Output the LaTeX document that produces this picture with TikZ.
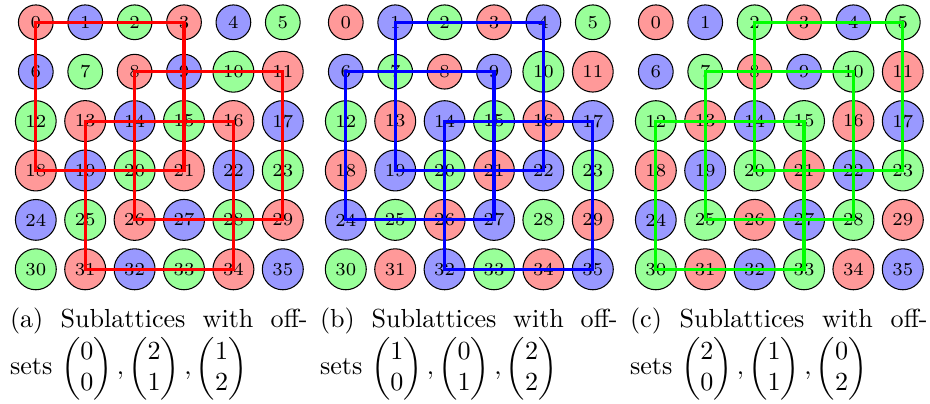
\documentclass[tikz,border=0pt]{standalone}
\usepackage{amsmath}
\definecolor{siteRed}{HTML}{FF9999}
\definecolor{siteBlue}{HTML}{9999FF}
\definecolor{siteGreen}{HTML}{99FF99}
\definecolor{subRed}{HTML}{FF0000}
\definecolor{subBlue}{HTML}{0000FF}
\definecolor{subGreen}{HTML}{00FF00}
\tikzset{
  % --- lattice sites -------------------------------------------------------
  site/.style     = {circle, draw=black, line width=0.4pt, inner sep=2.3pt,
                     minimum size=13.3pt, font=\fontsize{7}{8}\selectfont},
  sitecol0/.style = {site, fill=siteRed},
  sitecol1/.style = {site, fill=siteBlue},
  sitecol2/.style = {site, fill=siteGreen},
  % --- sublattice squares ---------------------------------------------------
  sublat/.style   = {line width=1.2pt, line join=miter},
  % --- captions ----------------------------------------------------------
  subcap/.style   = {anchor=base west, inner sep=0pt, text width=114pt,
                     align=justify},
}

\begin{document}
\begin{tikzpicture}
\useasboundingbox (0,0) rectangle (12.519,5.425);

% ============================ the three lattices ===========================
\foreach \p/\lab in {0/a,1/b,2/c}{
  \foreach \r in {0,...,5}{
    \foreach \c in {0,...,5}{
      \pgfmathtruncatemacro{\n}{6*\r+\c}
      \pgfmathtruncatemacro{\k}{mod(\r+\c,3)}
      \node[sitecol\k] (\lab\n) at ({\p*4.173+0.482+0.665*\c},{5.125-0.665*\r}) {\n};
    }
  }
}

% ============================ sublattices ==================================
% (a) offsets (0,0), (2,1), (1,2)
\draw[sublat, subRed] (a0.center) -- (a3.center) -- (a21.center) -- (a18.center) -- cycle;
\draw[sublat, subRed] (a8.center) -- (a11.center) -- (a29.center) -- (a26.center) -- cycle;
\draw[sublat, subRed] (a13.center) -- (a16.center) -- (a34.center) -- (a31.center) -- cycle;

% (b) offsets (1,0), (0,1), (2,2)
\draw[sublat, subBlue] (b1.center) -- (b4.center) -- (b22.center) -- (b19.center) -- cycle;
\draw[sublat, subBlue] (b6.center) -- (b9.center) -- (b27.center) -- (b24.center) -- cycle;
\draw[sublat, subBlue] (b14.center) -- (b17.center) -- (b35.center) -- (b32.center) -- cycle;

% (c) offsets (2,0), (1,1), (0,2)
\draw[sublat, subGreen] (c2.center) -- (c5.center) -- (c23.center) -- (c20.center) -- cycle;
\draw[sublat, subGreen] (c7.center) -- (c10.center) -- (c28.center) -- (c25.center) -- cycle;
\draw[sublat, subGreen] (c12.center) -- (c15.center) -- (c33.center) -- (c30.center) -- cycle;

% ================================ captions =================================
\node[subcap] (capa) at (0.128,1.010)
  {(a) Sublattices with off-\linebreak sets
   $\begin{pmatrix}0\\0\end{pmatrix}, \begin{pmatrix}2\\1\end{pmatrix},
    \begin{pmatrix}1\\2\end{pmatrix}$};
\node[subcap] (capb) at (4.301,1.010)
  {(b) Sublattices with off-\linebreak sets
   $\begin{pmatrix}1\\0\end{pmatrix}, \begin{pmatrix}0\\1\end{pmatrix},
    \begin{pmatrix}2\\2\end{pmatrix}$};
\node[subcap] (capc) at (8.474,1.010)
  {(c) Sublattices with off-\linebreak sets
   $\begin{pmatrix}2\\0\end{pmatrix}, \begin{pmatrix}1\\1\end{pmatrix},
    \begin{pmatrix}0\\2\end{pmatrix}$};

\end{tikzpicture}
\end{document}
